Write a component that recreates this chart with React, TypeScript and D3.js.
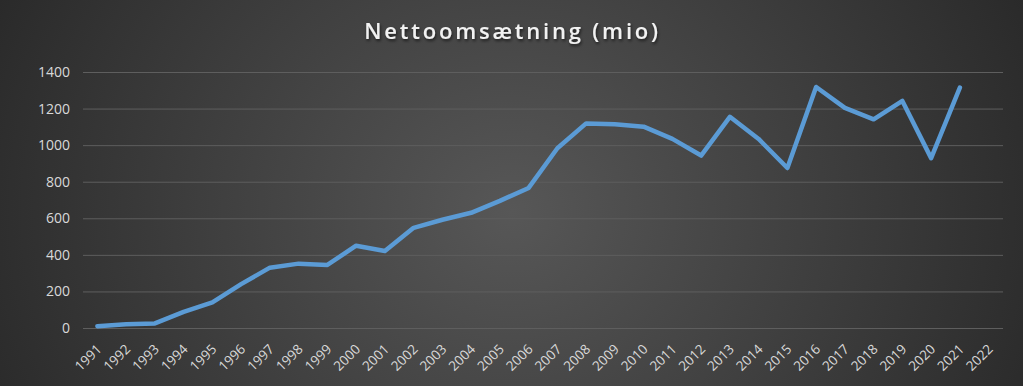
import * as d3 from 'd3';
import { useEffect, useRef } from 'react';

const years = [
  '1991', '1992', '1993', '1994', '1995', '1996', '1997', '1998', '1999', '2000',
  '2001', '2002', '2003', '2004', '2005', '2006', '2007', '2008', '2009', '2010',
  '2011', '2012', '2013', '2014', '2015', '2016', '2017', '2018', '2019', '2020',
  '2021', '2022',
];

const revenue = [
  10, 20, 25, 88, 140, 240, 330, 352, 345, 450,
  421, 548, 592, 630, 695, 766, 983, 1119, 1114, 1101,
  1034, 943, 1155, 1034, 875, 1318, 1204, 1141, 1242, 929,
  1315,
];

const yTicks = [0, 200, 400, 600, 800, 1000, 1200, 1400];

const W = 1023;
const H = 386;

const App = () => {
  const ref = useRef<SVGSVGElement>(null);

  useEffect(() => {
    const svg = d3.select(ref.current);
    svg.selectAll('*').remove();

    const margin = { top: 72, right: 20, bottom: 58, left: 83 };
    const width = W - margin.left - margin.right;
    const height = H - margin.top - margin.bottom;

    const defs = svg.append('defs');
    const grad = defs.append('radialGradient')
      .attr('id', 'bg')
      .attr('cx', '50%').attr('cy', '55%').attr('r', '60%')
      .attr('gradientTransform', 'translate(0.5,0.55) scale(1,2.4) translate(-0.5,-0.55)');
    grad.append('stop').attr('offset', '0%').attr('stop-color', '#575757');
    grad.append('stop').attr('offset', '100%').attr('stop-color', '#262626');

    const shadow = defs.append('filter').attr('id', 'tshadow')
      .attr('x', '-10%').attr('y', '-30%').attr('width', '120%').attr('height', '160%');
    shadow.append('feDropShadow')
      .attr('dx', 1).attr('dy', 2).attr('stdDeviation', 1.5)
      .attr('flood-color', '#000').attr('flood-opacity', 0.6);

    svg.append('rect').attr('width', W).attr('height', H).attr('fill', 'url(#bg)');

    svg.append('text')
      .attr('x', W / 2 + 1)
      .attr('y', 38.5)
      .attr('text-anchor', 'middle')
      .attr('fill', '#f2f2f2')
      .attr('font-family', 'Open Sans, sans-serif')
      .attr('font-weight', 600)
      .attr('font-size', 22)
      .attr('letter-spacing', 2.8)
      .attr('filter', 'url(#tshadow)')
      .text('Nettoomsætning (mio)');

    const chart = svg.append('g')
      .attr('transform', `translate(${margin.left},${margin.top})`);

    const x = d3.scaleBand()
      .domain(years)
      .range([0, width]);

    const y = d3.scaleLinear()
      .domain([0, 1400])
      .range([height, 0]);

    const yAxis = chart.append('g')
      .call(d3.axisLeft(y).tickValues(yTicks).tickSize(-width).tickPadding(13).tickFormat(d3.format('d')));
    yAxis.select('.domain').remove();
    yAxis.selectAll('.tick line').attr('stroke', '#5e5e5e').attr('stroke-width', 1);
    yAxis.selectAll('.tick text')
      .attr('fill', '#d9d9d9')
      .attr('font-family', 'Open Sans, sans-serif')
      .attr('font-size', 14);

    const xAxis = chart.append('g')
      .attr('transform', `translate(0,${height})`)
      .call(d3.axisBottom(x).tickSize(0).tickPadding(0));
    xAxis.select('.domain').remove();
    xAxis.selectAll('.tick text')
      .attr('fill', '#d9d9d9')
      .attr('font-family', 'Open Sans, sans-serif')
      .attr('font-size', 13.5)
      .attr('text-anchor', 'end')
      .attr('y', 0)
      .attr('dy', 0)
      .attr('transform', 'translate(5,22) rotate(-45)');

    const line = d3.line<number>()
      .x((_, i) => (x(years[i]) ?? 0) + x.bandwidth() / 2)
      .y(d => y(d));

    chart.append('path')
      .datum(revenue)
      .attr('fill', 'none')
      .attr('stroke', '#5b9bd5')
      .attr('stroke-width', 4.5)
      .attr('stroke-linejoin', 'round')
      .attr('stroke-linecap', 'round')
      .attr('d', line);
  }, []);

  return (
    <svg
      ref={ref}
      width={W}
      height={H}
      style={{ display: 'block', position: 'absolute', left: 0, top: 0 }}
    ></svg>
  );
};

export default App;
